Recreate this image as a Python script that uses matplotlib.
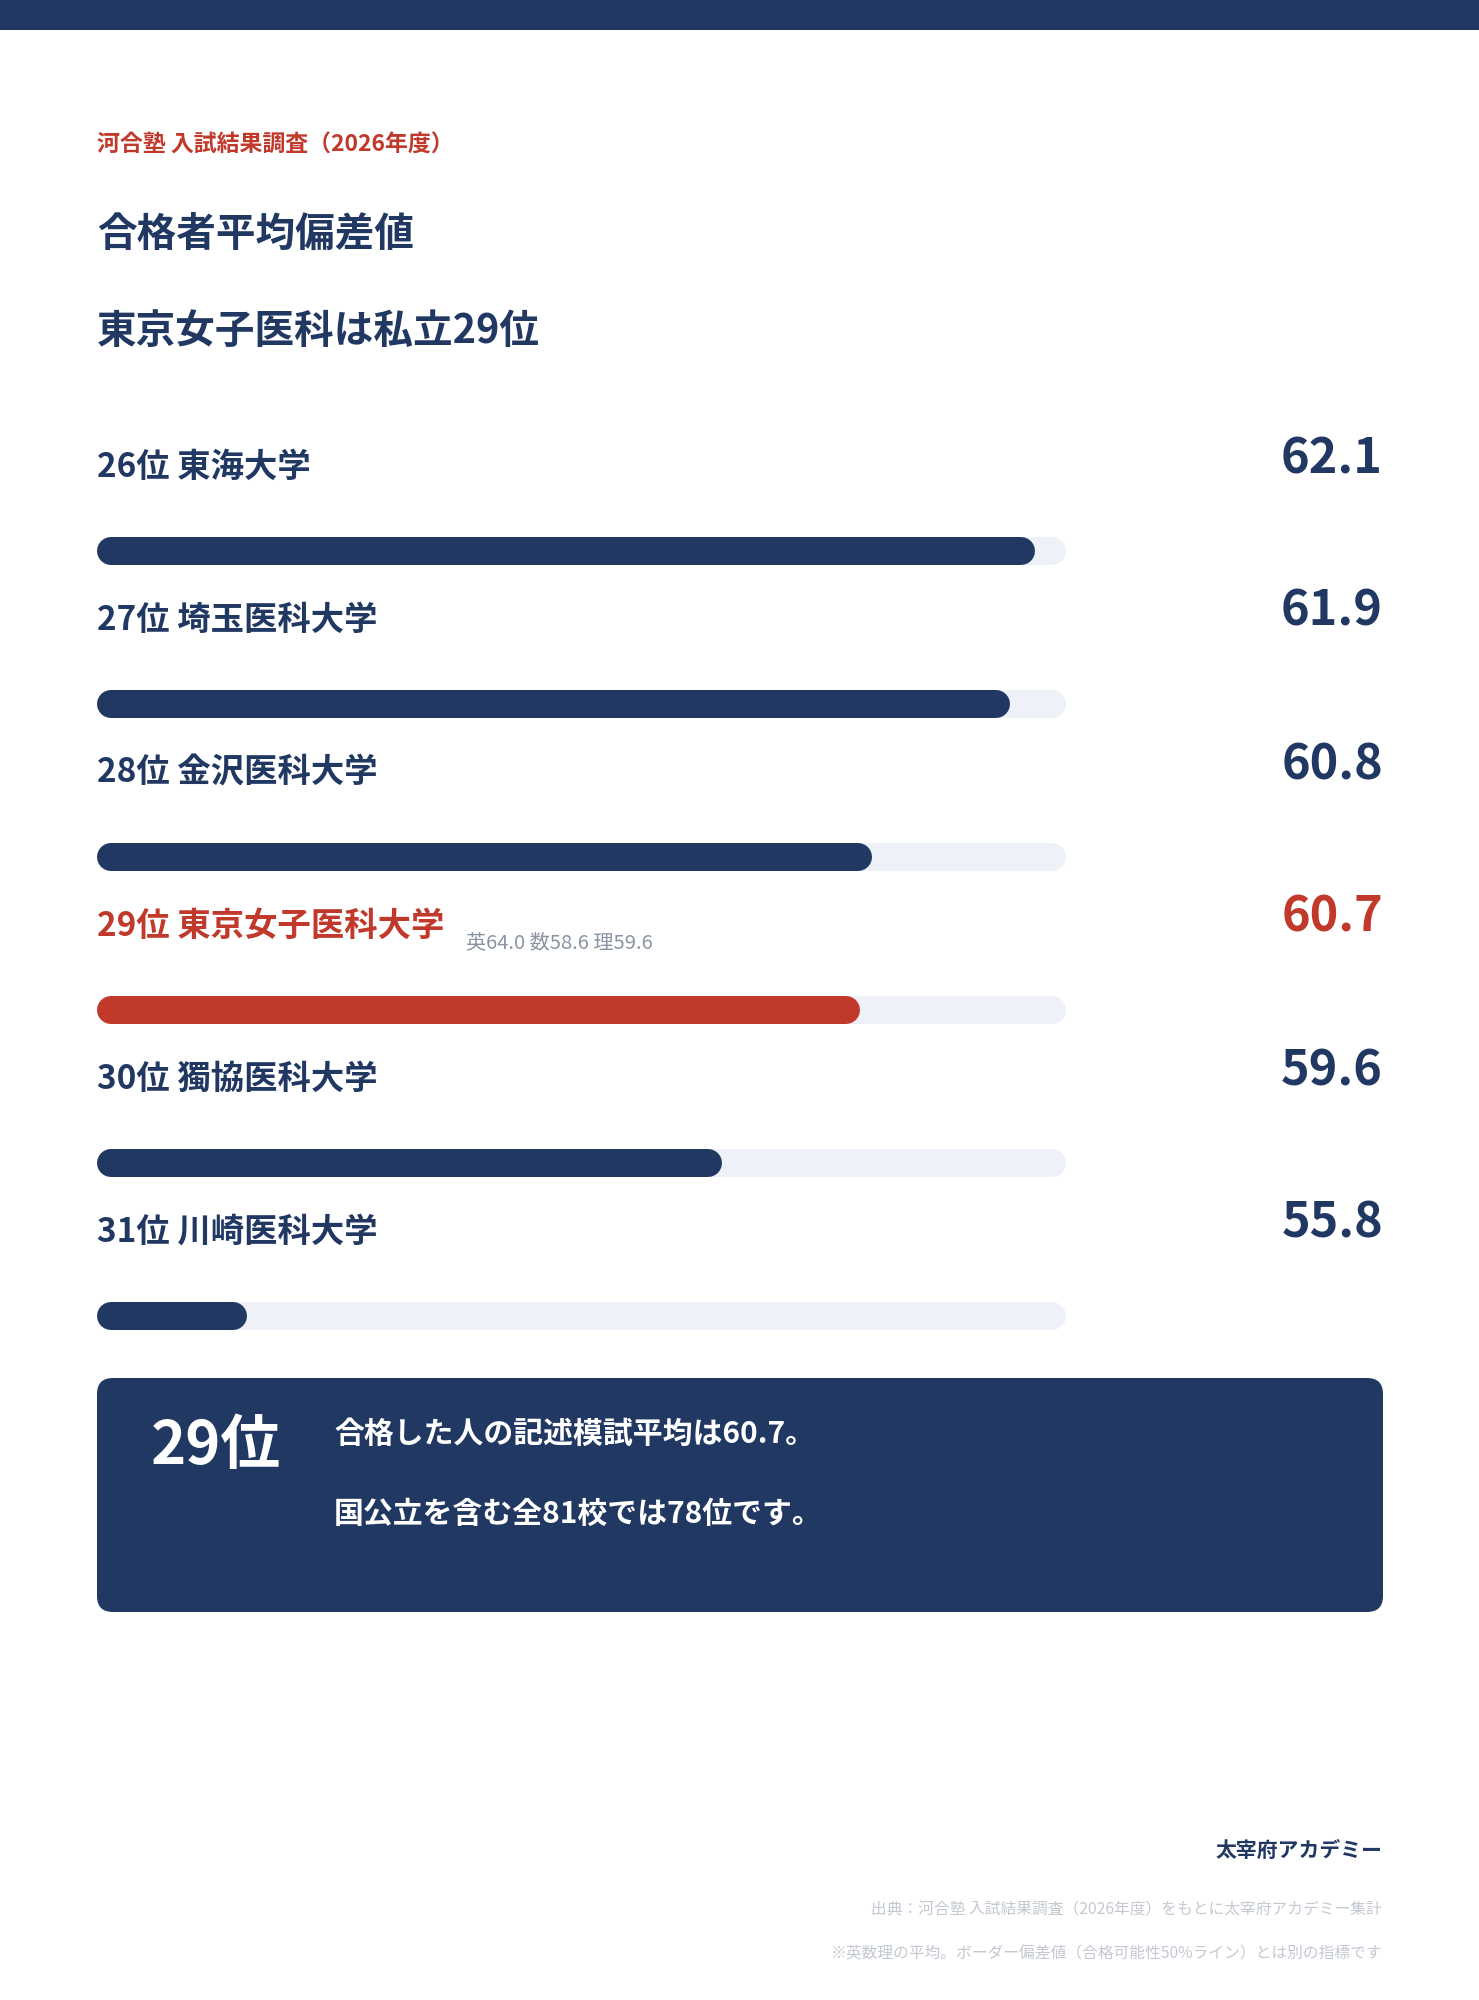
import matplotlib
matplotlib.use("Agg")
import matplotlib.pyplot as plt
from matplotlib.patches import FancyBboxPatch, Rectangle

plt.rcParams['font.family'] = ['Noto Sans CJK JP', 'DejaVu Sans']

NAVY = '#213863'
RED = '#c0392b'
TRACK = '#eef1f7'
GRAY = '#8a93a3'
LIGHT = '#c3c8d1'

# data
ranks = ['26位', '27位', '28位', '29位', '30位', '31位']
schools = ['東海大学', '埼玉医科大学', '金沢医科大学', '東京女子医科大学', '獨協医科大学', '川崎医科大学']
scores = [62.1, 61.9, 60.8, 60.7, 59.6, 55.8]
highlight = '東京女子医科大学'
subject_note = '英64.0 数58.6 理59.6'

source_label = '河合塾 入試結果調査（2026年度）'
title_lines = ['合格者平均偏差値', '東京女子医科は私立29位']
box_rank = '29位'
box_lines = ['合格した人の記述模試平均は60.7。', '国公立を含む全81校では78位です。']
brand = '太宰府アカデミー'
footnotes = ['出典：河合塾 入試結果調査（2026年度）をもとに太宰府アカデミー集計',
             '※英数理の平均。ボーダー偏差値（合格可能性50%ライン）とは別の指標です']

W, H = 1479, 2000
fig = plt.figure(figsize=(W / 100, H / 100), dpi=100)
bg = fig.add_axes([0, 0, 1, 1])
bg.set_xlim(0, W)
bg.set_ylim(H, 0)
bg.axis('off')

# top band
bg.add_patch(Rectangle((0, 0), W, 30, color=NAVY, lw=0))

bg.text(97, 145, source_label, color=RED, fontsize=16.5, fontweight='bold', va='center')
bg.text(97, 234, title_lines[0], color=NAVY, fontsize=28.5, fontweight='bold', va='center')
bg.text(97, 331, title_lines[1], color=NAVY, fontsize=28.5, fontweight='bold', va='center')

# bar axes: value scale from lo to hi across the track
lo, hi = 54.6, 62.35
left_px, right_px = 97, 1066
bx = fig.add_axes([left_px / W, 0, (right_px - left_px) / W, 1])
bx.set_xlim(lo, hi)
bx.set_ylim(H, 0)
bx.axis('off')

bar_px = 28
cap = (bar_px / 2) * (hi - lo) / (right_px - left_px)
lw_pt = bar_px * 72 / 100
row_gap = 153

for i, (rk, name, v) in enumerate(zip(ranks, schools, scores)):
    c = RED if name == highlight else NAVY
    yb = 551 + i * row_gap
    bx.plot([lo + cap, hi - cap], [yb, yb], color=TRACK, lw=lw_pt,
            solid_capstyle='round', zorder=1)
    bx.plot([lo + cap, v - cap], [yb, yb], color=c, lw=lw_pt,
            solid_capstyle='round', zorder=2)

    yl = 467 + i * row_gap
    bg.text(97, yl, rk + ' ' + name, color=c, fontsize=24, fontweight='bold', va='center')
    bg.text(1383, 473 + i * row_gap, f'{v:.1f}', color=c, fontsize=35,
            fontweight='bold', ha='right', va='baseline')
    if name == highlight:
        bg.text(466, yl + 17, subject_note, color=GRAY, fontsize=14.5, va='center')

# summary box
bg.add_patch(FancyBboxPatch((97, 1378), 1286, 234,
                            boxstyle='round,pad=0,rounding_size=16',
                            fc=NAVY, ec='none'))
bg.text(151, 1447, box_rank, color='white', fontsize=43, fontweight='bold', va='center')
bg.text(334, 1434, box_lines[0], color='white', fontsize=21.5, fontweight='bold', va='center')
bg.text(334, 1514, box_lines[1], color='white', fontsize=21.5, fontweight='bold', va='center')

# footer
bg.text(1382, 1850, brand, color=NAVY, fontsize=15, fontweight='bold', ha='right', va='center')
bg.text(1382, 1910, footnotes[0], color=LIGHT, fontsize=11.3, ha='right', va='center')
bg.text(1382, 1954, footnotes[1], color=LIGHT, fontsize=11.3, ha='right', va='center')

fig.savefig('out.png', dpi=100, facecolor='white')
